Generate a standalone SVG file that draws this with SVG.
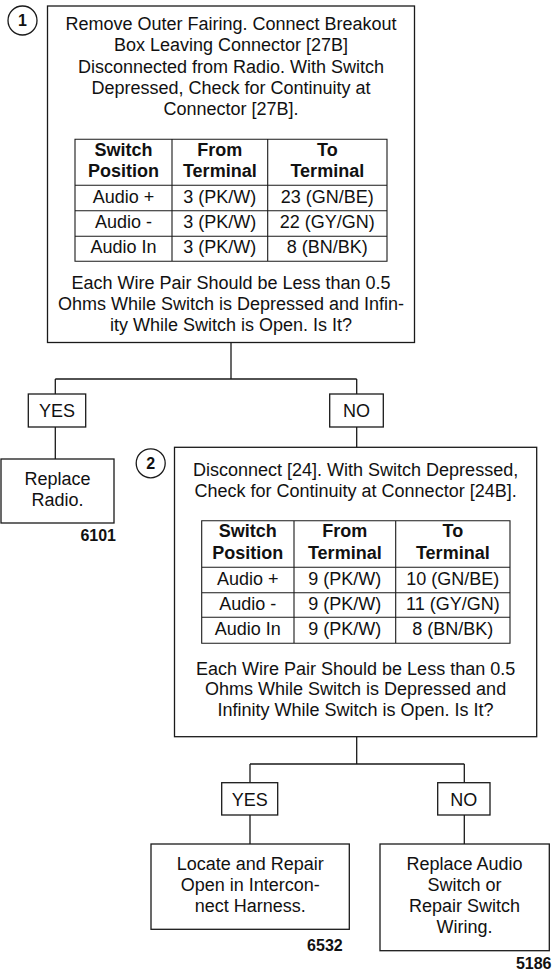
<svg xmlns="http://www.w3.org/2000/svg" width="552" height="973" viewBox="0 0 552 973">
<style>
text{font-family:"Liberation Sans",Arial,Helvetica,sans-serif;font-size:18px;fill:#111;text-anchor:middle}
.b{font-weight:bold}
.num{font-weight:bold;font-size:16px}
.fig{font-weight:bold;font-size:16px;text-anchor:end}
.box{fill:#fff;stroke:#1a1a1a;stroke-width:1.3}
.tbl{fill:none;stroke:#1a1a1a;stroke-width:1.1}
.ln{fill:none;stroke:#1a1a1a;stroke-width:1.3}
</style>
<rect width="552" height="973" fill="#fff"/>
<g id="connectors">
<path class="ln" d="M231,342.5V379M55.3,379H356.7M55.3,379V394M356.7,379V394M55.3,427V459M356.7,427V447.3"/>
<path class="ln" d="M356.7,736.7V764M250,764H464.3M250,764V782.7M464.3,764V782.7M250,815V844M464.3,815V844"/>
</g>
<g id="step1">
<circle class="box" cx="22.5" cy="20.5" r="14.5"/>
<text class="num" x="22.5" y="26.3">1</text>
<rect class="box" x="47.5" y="6" width="367" height="336.5"/>
<text x="231" y="30">Remove Outer Fairing. Connect Breakout</text>
<text x="231" y="51.3">Box Leaving Connector [27B]</text>
<text x="231" y="72.6">Disconnected from Radio. With Switch</text>
<text x="231" y="94">Depressed, Check for Continuity at</text>
<text x="231" y="115.3">Connector [27B].</text>
<path class="tbl" d="M75,139.3H387V261.3H75ZM75,185.3H387M75,210.7H387M75,236.3H387M172,139.3V261.3M267.7,139.3V261.3"/>
<text class="b" x="123.5" y="156">Switch</text>
<text class="b" x="123.5" y="177.3">Position</text>
<text class="b" x="219.8" y="156">From</text>
<text class="b" x="219.8" y="177.3">Terminal</text>
<text class="b" x="327.3" y="156">To</text>
<text class="b" x="327.3" y="177.3">Terminal</text>
<text x="123.5" y="202.6">Audio +</text>
<text x="219.8" y="202.6">3 (PK/W)</text>
<text x="327.3" y="202.6">23 (GN/BE)</text>
<text x="123.5" y="228">Audio -</text>
<text x="219.8" y="228">3 (PK/W)</text>
<text x="327.3" y="228">22 (GY/GN)</text>
<text x="123.5" y="253.3">Audio In</text>
<text x="219.8" y="253.3">3 (PK/W)</text>
<text x="327.3" y="253.3">8 (BN/BK)</text>
<text x="231" y="288.5">Each Wire Pair Should be Less than 0.5</text>
<text x="231" y="309.8">Ohms While Switch is Depressed and Infin-</text>
<text x="231" y="331">ity While Switch is Open. Is It?</text>
</g>
<g id="yes1">
<rect class="box" x="28.3" y="394" width="57.4" height="33"/>
<text x="57" y="417.3">YES</text>
</g>
<g id="no1">
<rect class="box" x="329.7" y="394" width="53.6" height="33"/>
<text x="356.5" y="417.3">NO</text>
</g>
<g id="replace-radio">
<rect class="box" x="1" y="459" width="113" height="64"/>
<text x="57.5" y="485">Replace</text>
<text x="57.5" y="506.3">Radio.</text>
<text class="fig" x="116" y="540.7">6101</text>
</g>
<g id="step2">
<circle class="box" cx="150.7" cy="463.3" r="14.5"/>
<text class="num" x="150.7" y="469">2</text>
<rect class="box" x="174.5" y="447.3" width="362.2" height="289.4"/>
<text x="355.6" y="476">Disconnect [24]. With Switch Depressed,</text>
<text x="355.6" y="497.3">Check for Continuity at Connector [24B].</text>
<path class="tbl" d="M201.7,520.7H510V643.3H201.7ZM201.7,567.3H510M201.7,592.7H510M201.7,617.3H510M294,520.7V643.3M395.7,520.7V643.3"/>
<text class="b" x="247.8" y="537.3">Switch</text>
<text class="b" x="247.8" y="559">Position</text>
<text class="b" x="344.8" y="537.3">From</text>
<text class="b" x="344.8" y="559">Terminal</text>
<text class="b" x="452.8" y="537.3">To</text>
<text class="b" x="452.8" y="559">Terminal</text>
<text x="247.8" y="584.6">Audio +</text>
<text x="344.8" y="584.6">9 (PK/W)</text>
<text x="452.8" y="584.6">10 (GN/BE)</text>
<text x="247.8" y="609.6">Audio -</text>
<text x="344.8" y="609.6">9 (PK/W)</text>
<text x="452.8" y="609.6">11 (GY/GN)</text>
<text x="247.8" y="635">Audio In</text>
<text x="344.8" y="635">9 (PK/W)</text>
<text x="452.8" y="635">8 (BN/BK)</text>
<text x="355.6" y="674.5">Each Wire Pair Should be Less than 0.5</text>
<text x="355.6" y="695.3">Ohms While Switch is Depressed and</text>
<text x="355.6" y="716.2">Infinity While Switch is Open. Is It?</text>
</g>
<g id="yes2">
<rect class="box" x="221.7" y="782.7" width="56" height="32.3"/>
<text x="249.7" y="805.7">YES</text>
</g>
<g id="no2">
<rect class="box" x="437.7" y="782.7" width="52.3" height="32.3"/>
<text x="463.8" y="805.7">NO</text>
</g>
<g id="repair-harness">
<rect class="box" x="151" y="844" width="198.3" height="85.3"/>
<text x="250.2" y="870">Locate and Repair</text>
<text x="250.2" y="890.8">Open in Intercon-</text>
<text x="250.2" y="911.7">nect Harness.</text>
<text class="fig" x="342.7" y="950.7">6532</text>
</g>
<g id="replace-switch">
<rect class="box" x="380" y="844" width="169.3" height="106.7"/>
<text x="464.6" y="870">Replace Audio</text>
<text x="464.6" y="890.8">Switch or</text>
<text x="464.6" y="911.7">Repair Switch</text>
<text x="464.6" y="932.7">Wiring.</text>
<text class="fig" x="551.5" y="969.3">5186</text>
</g>
</svg>
